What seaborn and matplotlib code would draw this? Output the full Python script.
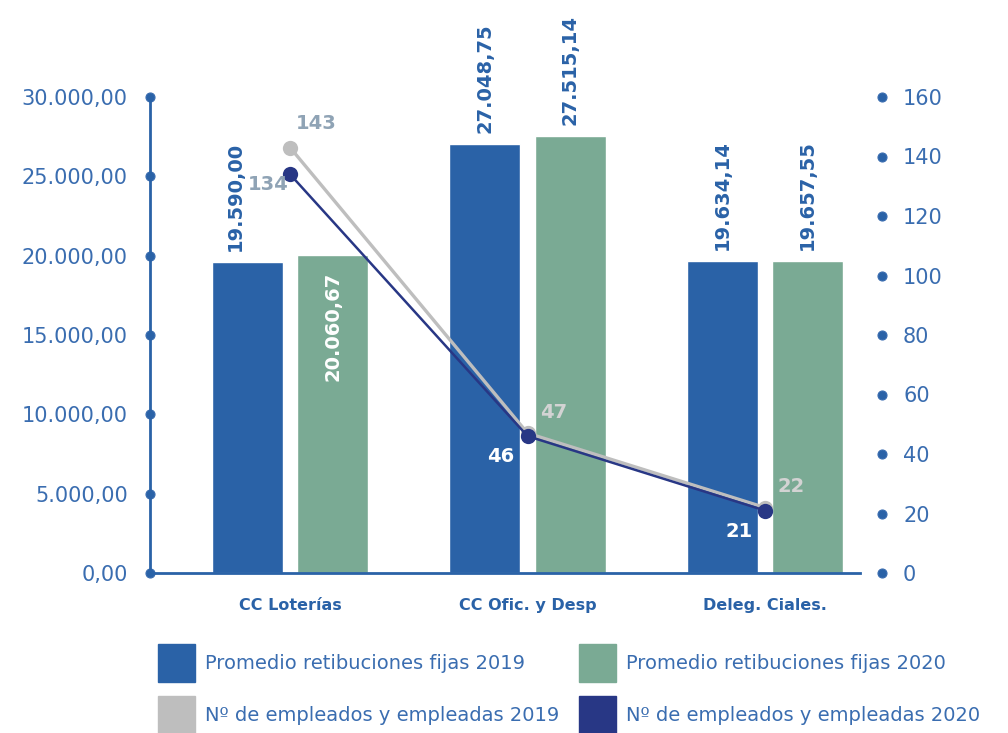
import matplotlib.pyplot as plt
import numpy as np
import pandas as pd
import seaborn as sns
from matplotlib.patches import Patch

categorias = ["CC Loterías", "CC Ofic. y Desp", "Deleg. Ciales."]
retrib_2019 = [19590.00, 27048.75, 19634.14]
retrib_2020 = [20060.67, 27515.14, 19657.55]
empleados_2019 = [143, 47, 22]
empleados_2020 = [134, 46, 21]

ser_bar = ["Promedio retibuciones fijas 2019", "Promedio retibuciones fijas 2020"]
ser_lin = ["Nº de empleados y empleadas 2019", "Nº de empleados y empleadas 2020"]

AZUL = "#2A62A7"
VERDE = "#7AAA94"
GRIS = "#BEBEBE"
MARINO = "#283785"
TEXTO = "#3A6DB0"


def es_num(v):
    s = f"{v:,.2f}"
    return s.replace(",", "X").replace(".", ",").replace("X", ".")


df_bar = pd.DataFrame({
    "cat": categorias * 2,
    "valor": retrib_2019 + retrib_2020,
    "serie": [ser_bar[0]] * 3 + [ser_bar[1]] * 3,
})
df_lin = pd.DataFrame({
    "x": list(range(3)) * 2,
    "valor": empleados_2019 + empleados_2020,
    "serie": [ser_lin[0]] * 3 + [ser_lin[1]] * 3,
})

sns.set_style("white")
plt.rcParams["font.family"] = ["DejaVu Sans"]

fig = plt.figure(figsize=(10.08, 7.33), dpi=100)
ax = fig.add_axes([150 / 1008, 1 - 573 / 733, 710 / 1008, 476 / 733])

sns.barplot(data=df_bar, x="cat", y="valor", hue="serie", hue_order=ser_bar,
            palette=[AZUL, VERDE], width=0.72, gap=0.17, saturation=1,
            legend=False, ax=ax)
ax.set_xlim(-0.59, 2.4)
ax.set_ylim(0, 30000)
ax.set_yticks(np.arange(0, 30001, 5000))
ax.set_yticklabels([es_num(v) for v in np.arange(0, 30001, 5000)])
ax.set_xlabel("")
ax.set_ylabel("")
for s in ["top", "right"]:
    ax.spines[s].set_visible(False)
for s in ["left", "bottom"]:
    ax.spines[s].set_color(AZUL)
    ax.spines[s].set_linewidth(2)
ax.tick_params(axis="y", colors=TEXTO, labelsize=15, length=5, pad=11,
               direction="out", left=True)
ax.tick_params(axis="x", colors=AZUL, labelsize=11.5, length=0, pad=18)
for lab in ax.get_xticklabels():
    lab.set_fontweight("bold")
for t in ax.yaxis.get_major_ticks():
    t.tick1line.set_marker("o")
    t.tick1line.set_markersize(6.5)
    t.tick1line.set_color(AZUL)

# etiquetas de barras (dentro: blanco bajo el borde; fuera: azul encima)
dentro = [[False, False, False], [True, False, False]]
desplaz = [[-9, 0, 0], [0, 0, 0]]
for i, cont in enumerate(ax.containers):
    for j, bar in enumerate(cont):
        xc = bar.get_x() + bar.get_width() / 2
        h = bar.get_height()
        if dentro[i][j]:
            ax.annotate(es_num(h), (xc, h), xytext=(desplaz[i][j], -12),
                        textcoords="offset points", rotation=90, ha="center",
                        va="top", color="white", fontsize=14, fontweight="bold")
        else:
            ax.annotate(es_num(h), (xc, h), xytext=(desplaz[i][j], 8),
                        textcoords="offset points", rotation=90, ha="center",
                        va="bottom", color=AZUL, fontsize=14, fontweight="bold",
                        annotation_clip=False)

# eje derecho: empleados
ax2 = ax.twinx()
sns.lineplot(data=df_lin[df_lin.serie == ser_lin[0]], x="x", y="valor",
             color=GRIS, marker="o", markersize=11, markeredgewidth=0,
             linewidth=2.4, sort=False, ax=ax2)
sns.lineplot(data=df_lin[df_lin.serie == ser_lin[1]], x="x", y="valor",
             color=MARINO, marker="o", markersize=11, markeredgewidth=0,
             linewidth=1.8, sort=False, ax=ax2)
ax2.set_ylim(0, 160)
ax2.set_yticks(np.arange(0, 161, 20))
ax2.set_ylabel("")
ax2.set_xlabel("")
for s in ["top", "left", "bottom"]:
    ax2.spines[s].set_visible(False)
ax2.spines["right"].set_position(("outward", 16))
ax2.spines["right"].set_visible(False)
ax2.tick_params(axis="y", colors=TEXTO, labelsize=15, length=5, pad=10,
                direction="out", right=True)
for t in ax2.yaxis.get_major_ticks():
    t.tick2line.set_marker("o")
    t.tick2line.set_markersize(6.5)
    t.tick2line.set_color(AZUL)
ax.set_xlim(-0.59, 2.4)
ax2.set_xlim(-0.59, 2.4)

col_2019 = ["#8FA3B5", "#D3D3D3", "#D3D3D3"]
col_2020 = ["#8FA3B5", "white", "white"]
off_2019 = [(19, 17), (19, 15), (19, 15)]
off_2020 = [(-16, -7), (-19, -15), (-19, -15)]
for j in range(3):
    ax2.annotate(str(empleados_2019[j]), (j, empleados_2019[j]), xytext=off_2019[j],
                 textcoords="offset points", ha="center", va="center",
                 color=col_2019[j], fontsize=14, fontweight="bold")
    ax2.annotate(str(empleados_2020[j]), (j, empleados_2020[j]), xytext=off_2020[j],
                 textcoords="offset points", ha="center", va="center",
                 color=col_2020[j], fontsize=14, fontweight="bold")

handles = [Patch(color=AZUL), Patch(color=GRIS), Patch(color=VERDE), Patch(color=MARINO)]
labels = [ser_bar[0], ser_lin[0], ser_bar[1], ser_lin[1]]
fig.legend(handles, labels, ncol=2, loc="upper left",
           bbox_to_anchor=(158 / 1008, 1 - 644 / 733), frameon=False,
           fontsize=14, labelcolor=TEXTO, handlelength=1.9, handleheight=2.6,
           handletextpad=0.5, labelspacing=0.75, columnspacing=1.05,
           borderaxespad=0, borderpad=0)

fig.savefig("out.png", dpi=100)
